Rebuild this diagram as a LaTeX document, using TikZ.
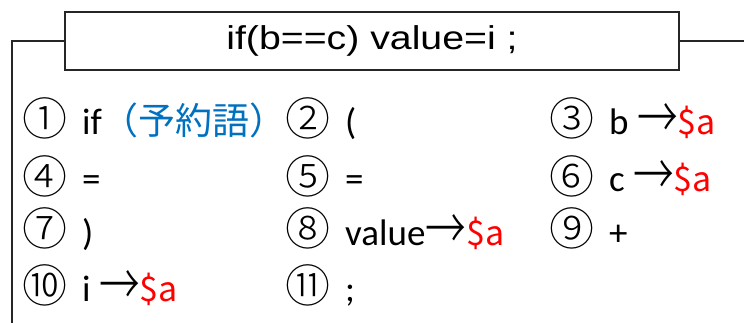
\documentclass[tikz,border=0pt]{standalone}
\usepackage{fontspec}
\setmainfont{Carlito}
\newfontfamily\jpf{Noto Sans CJK JP}
\newfontfamily\jpl{Noto Sans CJK JP Light}
\newfontfamily\ttlf{Liberation Sans}
\definecolor{kw}{RGB}{0,112,192}
\definecolor{frame}{RGB}{38,38,38}
\newcommand\myarr{{\jpl\raisebox{-4.5pt}{\scalebox{1.1}[1.55]{→}}}}
\newcommand\dola{{\jpf\fontsize{34}{34}\selectfont\textcolor{red}{\$a}}}
\begin{document}
\begin{tikzpicture}[x=1pt,y=-1pt,
  num/.style={anchor=base west,inner sep=0pt,font=\jpl\fontsize{45}{45}\selectfont},
  txt/.style={anchor=base west,inner sep=0pt,font=\fontsize{37}{37}\selectfont},
  titlebox/.style={draw=frame,line width=1.6pt,minimum width=614,minimum height=58,inner sep=0pt,
    font=\ttlf\fontsize{33}{33}\selectfont},
  frameline/.style={draw=frame,line width=1.2pt}]
\useasboundingbox (0,0) rectangle (744,322);
\node[titlebox] (title) at (372,41) {\scalebox{1.19}[1]{if(b==c) value=i ;}};
\coordinate (lb) at (12,330);
\coordinate (rc) at (750,41);
\draw[frameline] (lb) |- (title.west);
\draw[frameline] (title.east) -- (rc);
% row 1
\node[num] (n1) at (22,135) {①};
\node[txt] (t1) at (82,134) {if{\jpf\fontsize{37}{37}\selectfont\color{kw}（予約語）}};
\node[num] (n2) at (285,135) {②};
\node[txt] (t2) at (345,134) {(};
\node[num] (n3) at (549,135) {③};
\node[txt] (t3) at (609,134) {b \myarr\dola};
% row 2
\node[num] (n4) at (22,193) {④};
\node[txt] (t4) at (82,191) {=};
\node[num] (n5) at (285,193) {⑤};
\node[txt] (t5) at (345,191) {=};
\node[num] (n6) at (549,193) {⑥};
\node[txt] (t6) at (609,191) {c \myarr\dola};
% row 3
\node[num] (n7) at (22,245) {⑦};
\node[txt] (t7) at (82,245) {)};
\node[num] (n8) at (285,245) {⑧};
\node[txt] (t8) at (345,245) {value\myarr\dola};
\node[num] (n9) at (549,245) {⑨};
\node[txt] (t9) at (609,245) {+};
% row 4
\node[num] (n10) at (22,302) {⑩};
\node[txt] (t10) at (82,301) {i \myarr\dola};
\node[num] (n11) at (285,302) {⑪};
\node[txt] (t11) at (345,301) {;};
\end{tikzpicture}
\end{document}
